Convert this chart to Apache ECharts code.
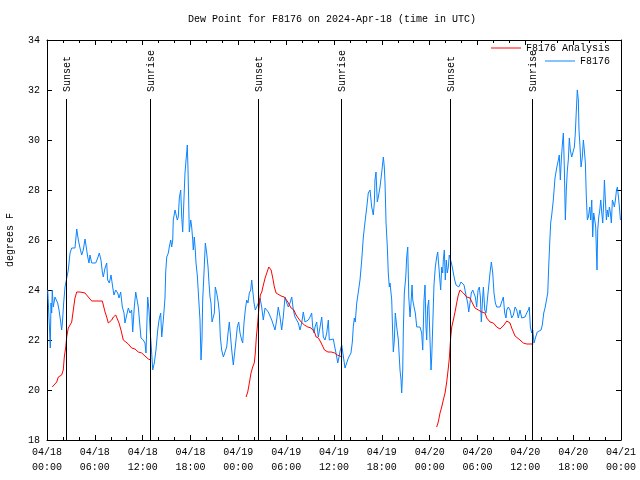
<!DOCTYPE html>
<html>
<head>
<meta charset="utf-8">
<script src="https://cdn.jsdelivr.net/npm/echarts@6/dist/echarts.min.js"></script>
<style>html,body{margin:0;padding:0;background:#fff}#c{width:640px;height:480px}</style>
</head>
<body>
<div id="c"></div>
<script>
// ---- data (hours since 2024-04-18 00:00 UTC, dew point in degrees F) ----
const titleText = 'Dew Point for F8176 on 2024-Apr-18 (time in UTC)';
const yAxisName = 'degrees F';
const xTickLabels = ['04/18\n00:00','04/18\n06:00','04/18\n12:00','04/18\n18:00','04/19\n00:00','04/19\n06:00','04/19\n12:00','04/19\n18:00','04/20\n00:00','04/20\n06:00','04/20\n12:00','04/20\n18:00','04/21\n00:00'];
const seriesNames = ['F8176 Analysis', 'F8176'];

const blueHours = [
0.09,0.34,0.41,0.50,0.59,0.66,0.79,1.00,1.22,1.34,1.51,1.72,1.84,1.94,2.09,2.26,2.47,2.67,2.89,3.10,
3.30,3.51,3.73,3.93,4.14,4.35,4.55,4.77,4.98,5.11,5.27,5.39,5.61,5.81,6.11,6.36,6.56,6.77,6.94,7.06,
7.28,7.49,7.61,7.82,8.03,8.24,8.40,8.62,8.87,9.03,9.24,9.45,9.66,9.78,10.0,10.2,10.41,10.62,10.75,10.95,
11.13,11.29,11.45,11.67,11.79,12.08,12.29,12.42,12.63,12.79,12.96,13.13,13.26,13.46,13.67,13.89,14.05,14.26,14.39,14.59,
14.80,14.89,15.02,15.22,15.34,15.52,15.64,15.77,15.84,16.06,16.27,16.34,16.47,16.60,16.77,16.90,17.02,17.19,17.31,17.44,
17.52,17.60,17.69,17.77,17.85,18.03,18.15,18.28,18.35,18.48,18.60,18.69,18.85,19.07,19.19,19.32,19.44,19.53,19.69,19.86,
20.03,20.20,20.32,20.45,20.57,20.70,20.86,20.99,21.11,21.29,21.49,21.62,21.74,21.91,22.12,22.33,22.54,22.71,22.87,23.04,
23.17,23.37,23.58,23.71,23.87,24.05,24.21,24.42,24.55,24.71,24.87,25.05,25.21,25.38,25.55,25.68,25.80,25.97,26.13,26.31,
26.51,26.72,26.93,27.13,27.35,27.56,27.76,27.97,28.19,28.39,28.60,28.81,29.01,29.23,29.44,29.64,29.85,30.07,30.27,30.48,
30.70,30.90,31.11,31.32,31.52,31.74,31.95,32.15,32.36,32.58,32.78,32.99,33.20,33.33,33.49,33.62,33.83,34.03,34.25,34.46,
34.66,34.87,35.09,35.29,35.41,35.63,35.91,36.13,36.34,36.47,36.63,36.79,36.97,37.17,37.38,37.59,37.80,38.01,38.13,38.30,
38.42,38.55,38.67,38.85,39.05,39.26,39.48,39.68,39.89,40.10,40.30,40.52,40.73,40.93,41.06,41.14,41.27,41.43,41.56,41.77,
41.98,42.11,42.19,42.31,42.40,42.53,42.69,42.81,42.94,43.03,43.24,43.36,43.44,43.57,43.69,43.87,44.07,44.28,44.41,44.49,
44.62,44.70,44.82,45.00,45.12,45.25,45.38,45.54,45.66,45.79,45.88,46.04,46.20,46.38,46.58,46.79,47.00,47.13,47.29,47.42,
47.54,47.63,47.75,47.88,48.04,48.17,48.26,48.38,48.54,48.71,48.88,49.01,49.13,49.26,49.38,49.51,49.64,49.71,49.84,49.96,
50.09,50.21,50.34,50.46,50.59,50.72,50.84,50.97,51.14,51.31,51.47,51.65,51.81,51.93,52.10,52.31,52.47,52.60,52.77,52.90,
53.06,53.22,53.40,53.56,53.73,53.90,54.07,54.23,54.36,54.48,54.61,54.74,54.91,55.07,55.20,55.32,55.45,55.57,55.74,55.91,
56.07,56.24,56.41,56.61,56.82,57.04,57.24,57.41,57.58,57.67,57.87,58.08,58.29,58.50,58.71,58.92,59.12,59.33,59.55,59.75,
59.96,60.17,60.38,60.50,60.63,60.80,60.93,61.09,61.30,61.50,61.72,61.97,62.13,62.31,62.47,62.68,62.81,62.93,63.06,63.18,
63.31,63.51,63.72,63.93,64.14,64.26,64.39,64.51,64.64,64.77,64.89,65.02,65.14,65.27,65.39,65.52,65.64,65.82,65.98,66.15,
66.27,66.40,66.52,66.65,66.73,66.86,66.99,67.15,67.28,67.40,67.53,67.65,67.78,67.91,68.08,68.20,68.33,68.45,68.58,68.71,
68.83,68.91,68.99,69.08,69.21,69.34,69.46,69.59,69.71,69.84,69.92,70.04,70.17,70.29,70.42,70.54,70.67,70.79,70.92,71.05,
71.17,71.30,71.43,71.55,71.68,71.80,71.93
];
const blueValues = [
24.0,22.28,21.68,23.48,23.08,24.0,23.32,23.72,23.8,23.48,23.2,22.72,22.4,22.72,23.48,24.12,24.2,24.8,25.48,25.68,
25.72,25.68,26.44,26.0,25.68,25.4,25.6,26.04,26.0,25.32,25.08,25.4,25.08,25.04,25.08,25.28,25.48,25.2,24.72,24.52,
24.88,25.08,24.4,24.28,24.6,24.12,23.8,24.0,23.88,23.68,23.92,23.32,23.08,22.68,23.0,23.28,23.08,23.2,22.32,23.32,
23.92,24.0,23.32,22.52,22.08,22.0,21.88,21.48,23.72,23.2,22.28,21.48,20.8,21.08,21.6,22.4,22.8,23.08,22.12,22.8,
23.68,24.72,25.32,25.48,25.72,26.0,25.72,26.0,26.8,27.2,27.12,26.8,26.92,27.68,28.0,26.92,26.32,27.72,28.68,29.2,
29.48,29.8,28.8,27.6,26.32,26.8,26.52,26.0,25.6,26.12,25.6,25.08,24.6,24.6,22.8,21.2,22.0,23.6,24.68,25.88,
25.48,24.92,24.28,23.72,23.48,22.72,22.68,23.08,24.12,23.88,23.48,23.08,22.12,21.6,21.32,21.32,21.72,22.28,22.72,22.68,
21.6,21.0,21.0,22.0,22.52,22.72,22.28,22.0,21.88,22.68,23.2,23.6,23.48,23.88,24.0,24.4,24.0,23.48,23.2,23.2,
23.48,23.68,23.32,22.8,23.28,23.2,23.12,23.08,22.8,22.8,22.4,22.8,23.32,22.92,22.4,22.92,23.72,23.48,23.32,23.48,
23.72,23.2,22.92,22.8,22.68,22.4,22.68,23.12,22.72,22.72,22.8,22.92,23.08,22.52,22.28,22.52,22.72,22.12,22.52,22.92,
22.12,22.0,22.28,22.8,22.0,22.04,22.04,22.0,21.32,21.08,21.32,21.6,21.8,21.72,20.88,21.08,21.28,21.32,21.48,21.92,
22.52,22.88,22.72,23.48,23.92,24.4,25.2,26.12,26.72,27.28,27.88,28.0,27.32,27.0,27.48,28.4,28.72,27.52,27.72,28.12,
28.68,29.08,29.32,28.92,28.28,26.68,25.72,24.68,24.12,24.28,23.6,22.28,21.52,22.0,23.08,22.52,22.0,20.8,20.4,19.88,
20.8,22.4,23.88,24.52,25.32,25.72,23.72,22.92,23.48,24.2,23.6,23.32,23.08,22.52,22.52,22.52,22.28,21.6,23.6,24.2,
22.52,22.0,23.32,23.6,22.0,20.8,21.32,22.52,24.2,24.92,25.32,25.52,25.48,25.6,24.0,24.92,24.68,25.2,25.6,24.4,
25.2,24.68,24.92,25.4,25.32,25.08,24.92,24.68,24.4,24.2,24.2,24.12,24.12,24.32,24.28,24.2,24.2,23.72,23.48,23.12,
23.48,23.88,24.0,23.92,23.72,23.32,24.0,24.12,23.72,22.72,23.48,24.12,23.2,23.08,23.48,23.88,24.28,24.68,25.12,24.68,
23.88,23.48,23.32,23.32,23.32,23.32,23.72,23.08,22.88,23.2,23.32,23.2,22.88,23.0,23.32,23.2,22.88,23.2,22.88,22.92,
22.92,23.08,23.2,23.32,22.52,22.28,22.4,21.88,22.12,22.32,22.4,22.4,22.6,23.08,23.28,23.32,23.88,24.92,25.88,26.68,
27.0,27.6,28.48,28.88,29.2,29.4,28.4,29.2,29.8,30.28,28.92,26.8,28.0,28.8,29.2,30.08,29.6,29.32,29.32,29.72,
30.28,31.2,32.0,31.6,30.4,29.72,28.92,29.32,30.0,29.6,29.08,27.72,26.8,26.92,27.32,26.8,27.6,26.12,27.08,26.8,
26.52,25.6,24.8,26.4,26.92,27.2,27.6,27.08,26.68,27.6,28.4,27.6,26.8,27.2,26.92,27.32,27.08,26.68,27.6,27.48,
27.32,27.6,28.0,28.12,27.72,27.32,26.8
];

// analysis series: three separate runs, null marks a gap
const redHours = [
0.66,1.22,1.42,1.63,1.84,2.04,2.17,2.35,2.47,2.67,2.89,3.10,3.30,3.51,3.73,4.14,4.35,4.77,4.98,5.18,5.61,6.02,6.65,6.94,7.28,7.49,7.69,7.90,8.12,8.32,8.62,8.87,9.03,9.28,9.57,9.78,10.20,10.62,11.04,11.45,11.88,12.29,12.71,13.05,
18.0,
24.97,25.18,25.38,25.59,25.80,26.00,26.13,26.26,26.43,26.56,26.76,26.94,27.14,27.36,27.61,27.82,27.98,28.11,28.32,28.52,28.74,28.95,29.36,29.78,30.21,30.41,30.62,30.96,31.25,31.50,31.88,32.29,32.72,33.13,33.55,33.76,34.05,34.39,34.81,35.24,35.65,36.09,36.42,36.71,37.04,
43.0,
48.88,49.08,49.30,49.51,49.71,49.93,50.14,50.34,50.47,50.64,50.77,50.97,51.18,51.39,51.59,51.81,52.02,52.22,52.65,53.06,53.27,53.48,53.69,54.10,54.53,54.94,55.16,55.57,55.99,56.41,56.82,57.04,57.33,57.67,57.87,58.08,58.29,58.50,58.71,58.92,59.33,59.75,60.17,60.59,61.00
];
const redValues = [
20.12,20.32,20.52,20.6,20.6,20.8,21.32,21.72,22.12,22.48,22.52,22.72,23.2,23.68,23.92,23.92,23.88,23.88,23.84,23.72,23.56,23.56,23.56,23.56,23.12,22.92,22.68,22.72,22.8,22.92,23.0,22.92,22.68,22.4,22.0,21.92,21.84,21.68,21.64,21.52,21.48,21.36,21.24,21.2,
null,
19.72,19.92,20.28,20.68,20.92,21.08,21.48,22.12,22.68,23.2,23.8,23.92,24.2,24.48,24.72,24.92,24.96,24.8,24.48,24.12,23.88,23.8,23.76,23.72,23.52,23.4,23.28,23.2,23.0,22.88,22.72,22.6,22.52,22.48,22.32,22.12,22.08,21.88,21.6,21.52,21.52,21.48,21.4,21.36,21.32,
null,
18.52,18.72,19.08,19.32,19.6,19.88,20.32,20.88,21.28,22.12,22.52,22.8,23.12,23.48,23.8,24.0,23.96,23.88,23.72,23.68,23.6,23.4,23.28,23.2,23.12,23.08,22.88,22.72,22.68,22.52,22.44,22.48,22.6,22.76,22.84,22.68,22.48,22.32,22.16,22.12,22.0,21.88,21.84,21.84,21.84
];

const eventHours = [2.40, 12.96, 26.51, 36.92, 50.59, 60.88];
const eventLabels = ['Sunset', 'Sunrise', 'Sunset', 'Sunrise', 'Sunset', 'Sunrise'];
const eventLineTop = 31.64;

// ---- chart ----
const FONT = 'Liberation Mono';
const chart = echarts.init(document.getElementById('c'), null, {renderer: 'canvas'});

const blueData = blueHours.map((h, i) => [h, blueValues[i]]);
const redData = redHours.map((h, i) => [h, redValues[i] == null ? '-' : redValues[i]]);
const eventData = eventHours.map(h => [h, 18]);

const xCommon = {
  type: 'value', min: 0, max: 72, interval: 6,
  axisLine: {show: true, onZero: false, lineStyle: {color: '#000', width: 1}},
  axisTick: {show: true, inside: true, length: 5, lineStyle: {color: '#000'}},
  minorTick: {show: true, splitNumber: 3, length: 3, lineStyle: {color: '#000'}},
  splitLine: {show: false}
};
const yCommon = {
  type: 'value', min: 18, max: 34, interval: 2,
  axisLine: {show: true, onZero: false, lineStyle: {color: '#000', width: 1}},
  axisTick: {show: true, inside: true, length: 5, lineStyle: {color: '#000'}},
  splitLine: {show: false}
};
const legendCommon = {
  right: 30, padding: 0, itemWidth: 30, itemHeight: 1, icon: 'rect',
  textStyle: {fontFamily: FONT, fontSize: 10, color: '#000'}, selectedMode: false
};

chart.setOption({
  animation: false,
  backgroundColor: '#fff',
  title: {
    text: titleText, left: 188, top: 14, padding: 0,
    textStyle: {fontFamily: FONT, fontSize: 10, fontWeight: 'normal', color: '#000'}
  },
  grid: {left: 47, right: 19, top: 40, bottom: 40, containLabel: false, outerBoundsMode: 'none'},
  legend: [
    Object.assign({}, legendCommon, {data: [seriesNames[0]], top: 43}),
    Object.assign({}, legendCommon, {data: [seriesNames[1]], top: 56})
  ],
  xAxis: [
    Object.assign({}, xCommon, {
      position: 'bottom',
      axisLabel: {
        show: true, margin: 5, lineHeight: 15, color: '#000', fontFamily: FONT, fontSize: 10,
        showMinLabel: true, showMaxLabel: true,
        formatter: v => xTickLabels[Math.round(v / 6)] || ''
      }
    }),
    Object.assign({}, xCommon, {position: 'top', axisLabel: {show: false}})
  ],
  yAxis: [
    Object.assign({}, yCommon, {
      position: 'left',
      name: yAxisName, nameLocation: 'middle', nameGap: 32,
      nameTextStyle: {fontFamily: FONT, fontSize: 10, color: '#000'},
      axisLabel: {show: true, margin: 7, color: '#000', fontFamily: FONT, fontSize: 10}
    }),
    Object.assign({}, yCommon, {position: 'right', axisLabel: {show: false}})
  ],
  series: [
    {
      name: seriesNames[0], type: 'line', data: redData, symbol: 'none', connectNulls: false,
      lineStyle: {color: '#ff0000', width: 1}, itemStyle: {color: '#ff0000'}, z: 3
    },
    {
      name: seriesNames[1], type: 'line', data: blueData, symbol: 'none',
      lineStyle: {color: '#0a84ff', width: 1}, itemStyle: {color: '#0a84ff'}, z: 2
    },
    {
      name: 'events', type: 'custom', data: eventData, silent: true, z: 4,
      renderItem: function (params, api) {
        const h = api.value(0);
        const top = api.coord([h, eventLineTop]);
        const bot = api.coord([h, 18]);
        const x = Math.round(top[0]) + 0.5;
        return {
          type: 'group',
          children: [
            {type: 'line', shape: {x1: x, y1: top[1], x2: x, y2: bot[1]},
             style: {stroke: '#000', lineWidth: 1}},
            {type: 'text', x: x + 1, y: top[1] - 7, rotation: Math.PI / 2,
             style: {text: eventLabels[params.dataIndex], fill: '#000',
                     font: '10px "' + FONT + '"', align: 'left', verticalAlign: 'middle'}}
          ]
        };
      }
    }
  ]
});
</script>
</body>
</html>
